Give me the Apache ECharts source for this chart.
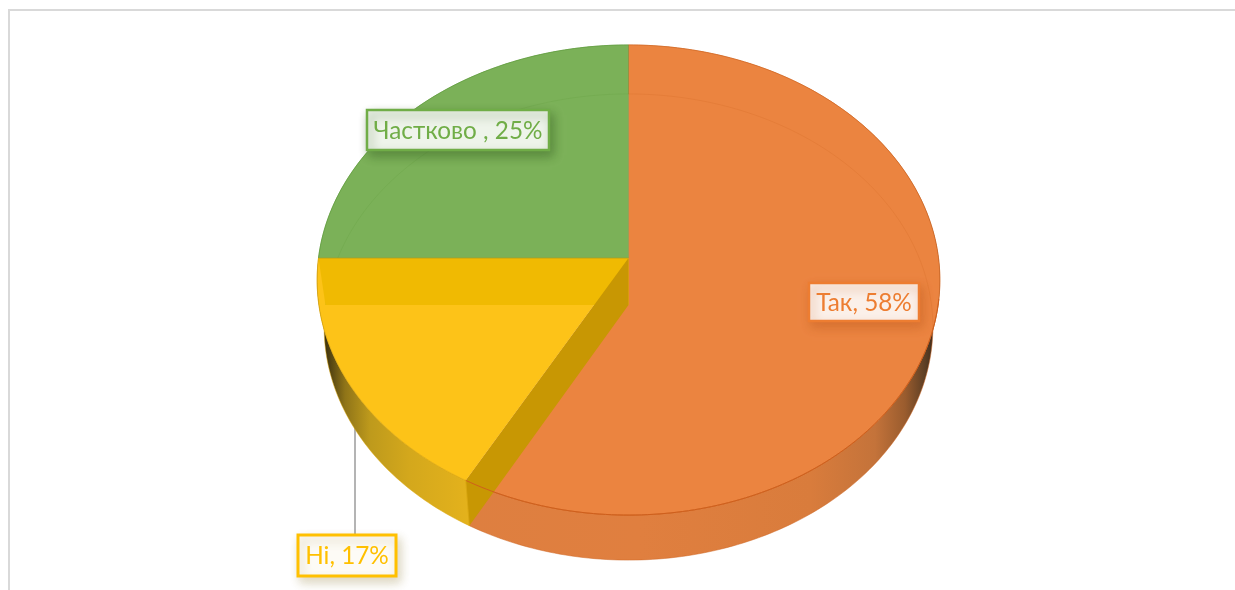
<!DOCTYPE html>
<html><head><meta charset="utf-8">
<style>html,body{margin:0;padding:0;background:#fff;overflow:hidden}#c{width:1235px;height:590px}</style>
<script src="https://cdn.jsdelivr.net/npm/echarts@6/dist/echarts.min.js"></script>
</head><body><div id="c"></div>
<script>
const categories = ['Так', 'Ні', 'Частково '];
const values = [58, 17, 25];

const faceColors = ['#EB8440', '#FDC318', '#7BB158'];
const textColors = ['#ED7D31', '#FFC000', '#70AD47'];
const rimColors = ['#CF6420', '#DDA60A', '#5F9A3C'];
const labelFills = ['#FBF0E9', '#FDFBF6', '#EEF4EA'];
const labelShadows = ['rgba(190,90,30,0.45)', 'rgba(150,130,60,0.3)', 'rgba(50,90,30,0.45)'];
const labelBoxes = [[809, 283, 110, 38], [298, 535, 98, 41], [367, 110, 182, 40]];

const CX = 628.5;
const topRim = { y0: 258, A: 310, B: 233, p: 0.0936 };
const botRim = { y0: 305, A: 303, B: 231, p: 0.0945 };
const total = values.reduce((a, b) => a + b, 0);

function pt(r, deg) {
  const t = deg * Math.PI / 180, d = 1 + r.p * Math.cos(t);
  return [CX + r.A * Math.sin(t) / d, r.y0 - r.B * Math.cos(t) / d];
}
function arc(r, a, b) {
  const n = Math.max(2, Math.ceil(Math.abs(b - a))), out = [];
  for (let i = 0; i <= n; i++) out.push(pt(r, a + (b - a) * i / n));
  return out;
}
function hGrad(stops) {
  const x0 = stops[0][0], x1 = stops[stops.length - 1][0];
  return { type: 'linear', x: x0, y: 0, x2: x1, y2: 0, global: true,
    colorStops: stops.map(s => ({ offset: (s[0] - x0) / (x1 - x0), color: s[1] })) };
}
const wallFill = [
  hGrad([[465, '#DE7F40'], [640, '#E07F3F'], [810, '#D97C3C'], [875, '#C4733A'], [905, '#9A5C2E'], [925, '#5E3F24'], [937, '#33261A']]),
  hGrad([[318, '#1E1A0C'], [328, '#4A3C10'], [345, '#8F7418'], [370, '#BE9A1C'], [410, '#D4A81C'], [470, '#E4B21C']]),
  '#7BB158'
];

function renderSlice(params, api) {
  const i = params.dataIndex, v = api.value(0);
  let start = 0;
  for (let k = 0; k < i; k++) start += values[k];
  const a = start / total * 360, b = (start + v) / total * 360;
  const top = arc(topRim, a, b), bot = arc(botRim, a, b);
  const apexT = [CX, topRim.y0], apexB = [CX, botRim.y0];
  const kids = [];
  // outer wall
  kids.push({ type: 'polygon', z2: 10 + (i === 2 ? 0 : 1), shape: { points: top.concat(bot.slice().reverse()) },
    style: { fill: wallFill[i], stroke: rimColors[i], lineWidth: 0.5 } });
  // top face
  kids.push({ type: 'polygon', z2: 20, shape: { points: [apexT].concat(top) },
    style: { fill: faceColors[i] } });
  kids.push({ type: 'polyline', z2: 21, shape: { points: top },
    style: { fill: null, stroke: rimColors[i], lineWidth: 0.8, opacity: 0.8 } });
  // far rim seen through the translucent body
  if (i !== 1) {
    const hi = i === 0 ? Math.min(b, 97) : b;
    kids.push({ type: 'polyline', z2: 22, shape: { points: arc(botRim, a, hi) },
      style: { fill: null, stroke: rimColors[i], lineWidth: 0.8, opacity: 0.28 } });
  }
  // radial walls of the cut slice
  if (i === 1) {
    kids.push({ type: 'polygon', z2: 23, shape: { points: [apexT, pt(topRim, b), pt(botRim, b), apexB] },
      style: { fill: '#F0BA02' } });
    kids.push({ type: 'polygon', z2: 24, shape: { points: [apexT, pt(topRim, a), pt(botRim, a), apexB] },
      style: { fill: '#C89703' } });
    kids.push({ type: 'polyline', z2: 26, shape: { points: [pt(topRim, a), pt(botRim, a)] },
      style: { fill: null, stroke: '#D9A80F', lineWidth: 0.8 } });
  }
  if (i === 0) {
    // front rim stays visible across the wedge
    kids.push({ type: 'polyline', z2: 25, shape: { points: arc(topRim, 100, b) },
      style: { fill: null, stroke: '#CF5F1C', lineWidth: 1 } });
  }
  // straight slice edges
  if (i === 2) {
    kids.push({ type: 'polyline', z2: 27, shape: { points: [pt(topRim, a), apexT] },
      style: { fill: null, stroke: '#A89A20', lineWidth: 1, opacity: 0.7 } });
    kids.push({ type: 'polyline', z2: 27, shape: { points: [pt(topRim, b), apexT] },
      style: { fill: null, stroke: '#8E8A3A', lineWidth: 1, opacity: 0.6 } });
  }
  // label
  const box = labelBoxes[i], lw = i === 1 ? 3 : 2.5;
  if (i === 1) {
    kids.push({ type: 'line', z2: 5, shape: { x1: 355, y1: 420, x2: 355, y2: box[1] },
      style: { stroke: '#B4B4B4', lineWidth: 2 } });
  }
  kids.push({ type: 'rect', z2: 40, shape: { x: box[0], y: box[1], width: box[2], height: box[3] },
    style: { fill: labelFills[i], stroke: textColors[i], lineWidth: lw,
      shadowBlur: 10, shadowOffsetX: 3, shadowOffsetY: 5, shadowColor: labelShadows[i] } });
  kids.push({ type: 'text', z2: 41, style: {
    text: categories[i] + ', ' + v + '%', x: box[0] + box[2] / 2, y: box[1] + box[3] / 2 + 1,
    align: 'center', verticalAlign: 'middle', fill: textColors[i],
    font: '24.3px Lato, "Open Sans", sans-serif' } });
  return { type: 'group', children: kids };
}

const chart = echarts.init(document.getElementById('c'), null, { renderer: 'canvas' });
chart.setOption({
  animation: false,
  backgroundColor: '#fff',
  graphic: [
    { type: 'line', shape: { x1: 8, y1: 10, x2: 1235, y2: 10 }, style: { stroke: '#D9D9D9', lineWidth: 2 } },
    { type: 'line', shape: { x1: 9, y1: 10, x2: 9, y2: 590 }, style: { stroke: '#D9D9D9', lineWidth: 2 } }
  ],
  series: [{
    type: 'custom', coordinateSystem: 'none', renderItem: renderSlice,
    data: values.map((v, i) => ({ name: categories[i], value: [v] })),
    silent: true
  }]
});
</script></body></html>
